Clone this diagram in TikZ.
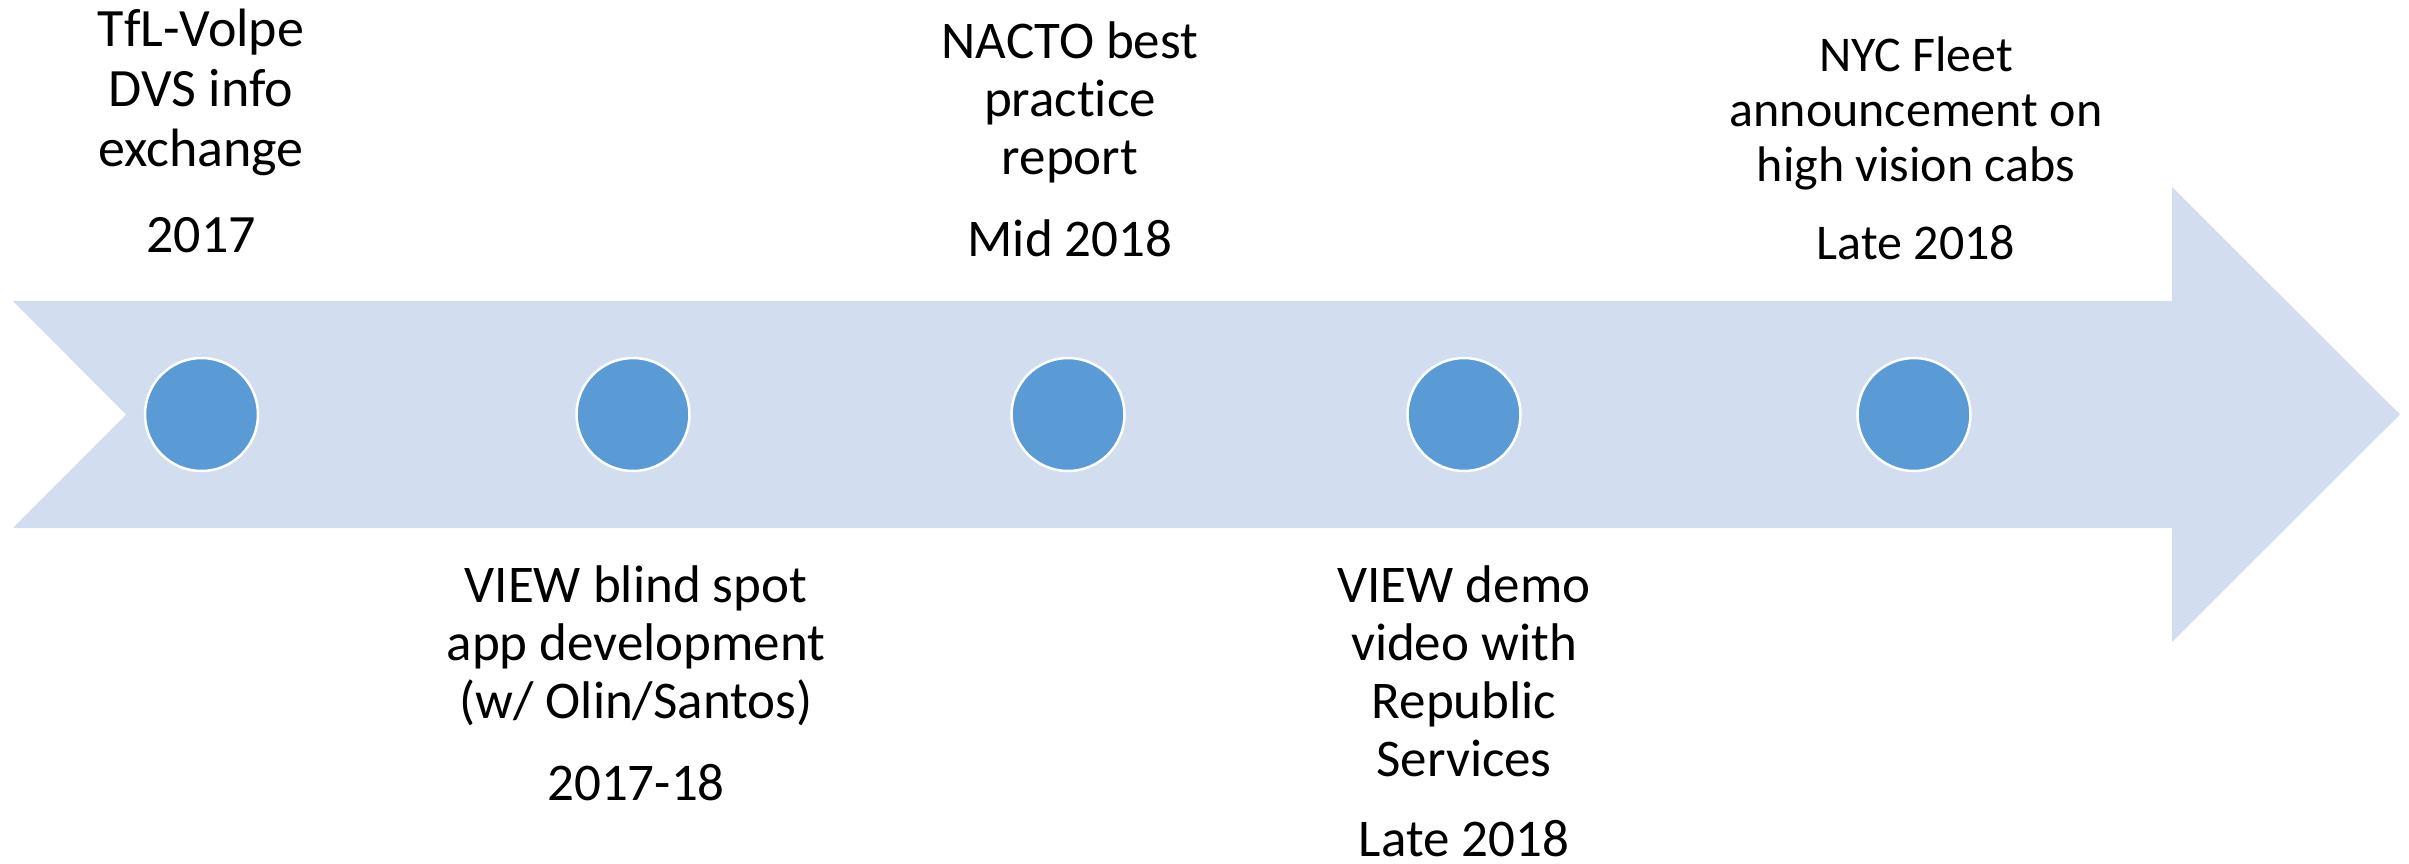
\documentclass[tikz,border=0pt]{standalone}
\usepackage{fontspec}
\setmainfont{Carlito}[Ligatures=NoCommon]
\definecolor{arrowfill}{HTML}{D2DEEF}
\definecolor{dotfill}{HTML}{5B9BD5}
\newcommand\linestack[1]{\vtop{\lineskiplimit=-100pt\halign{\hfil##\hfil\cr#1\crcr}}}
\begin{document}
\begin{tikzpicture}[x=1pt,y=-1pt,
  dot/.style={circle,fill=dotfill,draw=white,line width=2.5pt,minimum size=113pt,inner sep=0pt},
  lbl/.style={anchor=base,inner sep=0pt,font=\fontsize{53}{58}\selectfont},
  lblsmall/.style={anchor=base,inner sep=0pt,font=\fontsize{50}{55}\selectfont}]
\useasboundingbox (0,0) rectangle (2409,863);
\fill[arrowfill] (13,301) -- (2172,301) -- (2172,187) -- (2400,414.5) -- (2172,642) -- (2172,528) -- (13,528) -- (126,414.5) -- cycle;
\node[dot] (d1) at (201.5,414.5) {};
\node[dot] (d2) at (633,414.5) {};
\node[dot] (d3) at (1068,414.5) {};
\node[dot] (d4) at (1464,414.5) {};
\node[dot] (d5) at (1914,414.5) {};
\node[lbl,font=\fontsize{54}{60}\selectfont] (t1) at (201,46) {\linestack{TfL-Volpe\cr DVS info\cr exchange\cr\noalign{\vskip26pt}2017}};
\node[lbl] (t3) at (1070,58) {\linestack{NACTO best\cr practice\cr report\cr\noalign{\vskip24pt}Mid 2018}};
\node[lblsmall] (t5) at (1916,71) {\linestack{NYC Fleet\cr announcement on\cr high vision cabs\cr\noalign{\vskip23pt}Late 2018}};
\node[lbl] (t2) at (636,602) {\linestack{VIEW blind spot\cr app development\cr (w/ Olin/Santos)\cr\noalign{\vskip24pt}2017-18}};
\node[lbl] (t4) at (1464,602) {\linestack{VIEW demo\cr video with\cr Republic\cr Services\cr\noalign{\vskip22pt}Late 2018}};
\end{tikzpicture}
\end{document}
